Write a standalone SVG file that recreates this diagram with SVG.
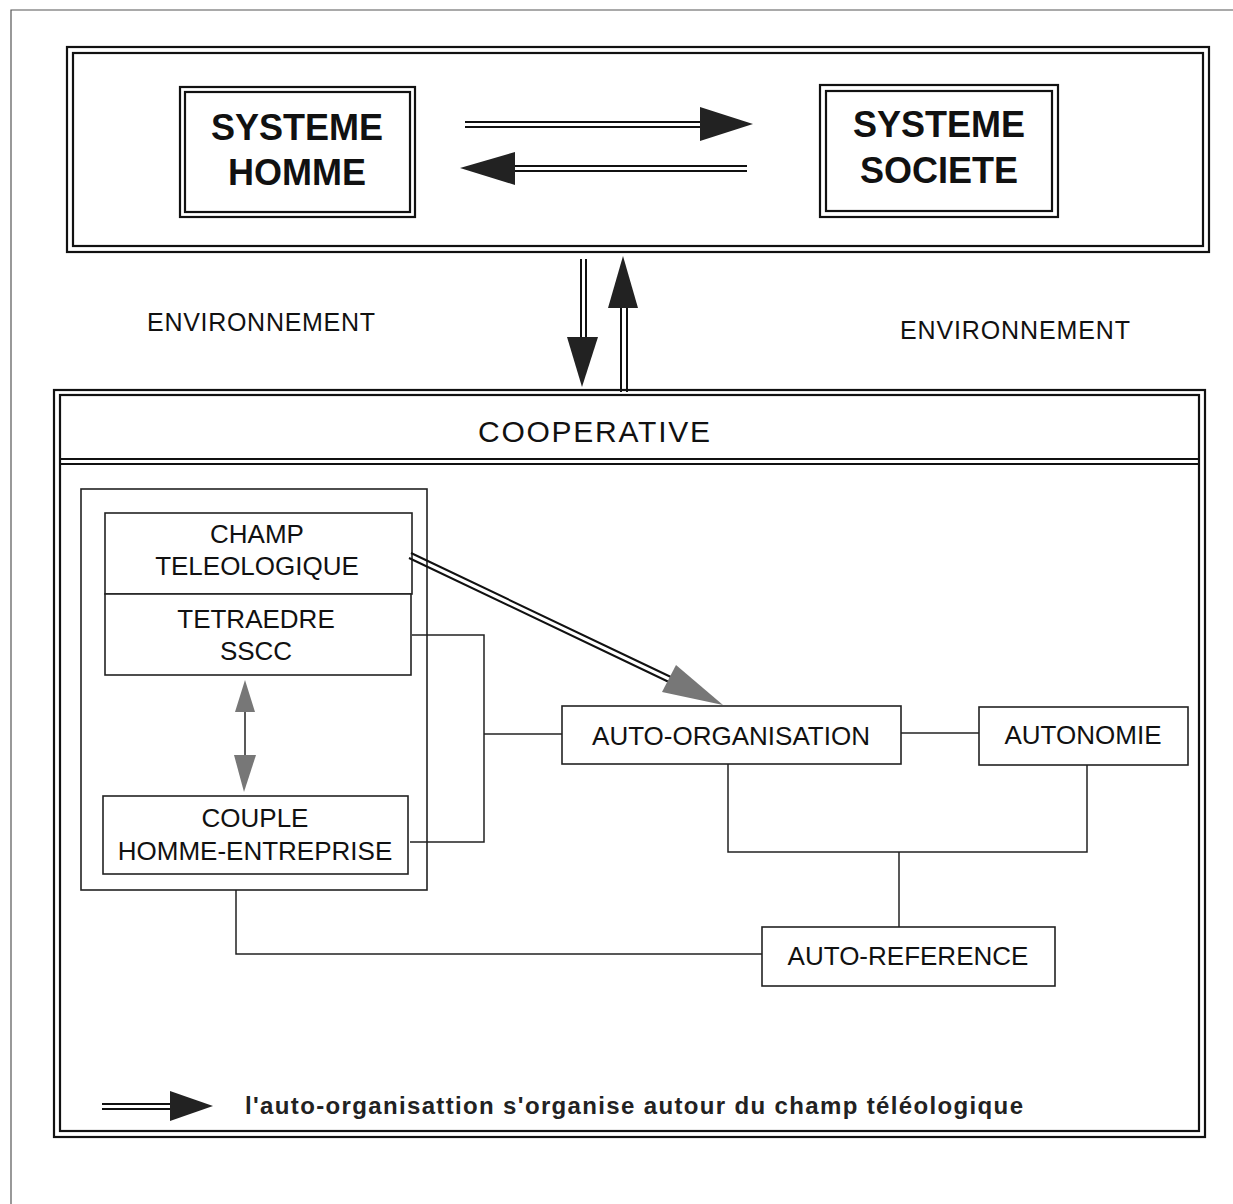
<svg xmlns="http://www.w3.org/2000/svg" width="1233" height="1204" viewBox="0 0 1233 1204">
<style>
.dbl{fill:none;stroke:#111;stroke-width:2.2}
.box{fill:#fff;stroke:#222;stroke-width:1.6}
.con{fill:none;stroke:#222;stroke-width:1.5}
.arr{fill:none;stroke:#111;stroke-width:2}
.t{font-family:"Liberation Sans",Arial,sans-serif;fill:#111;text-anchor:middle}
.b{font-weight:bold;font-size:36px}
.n{font-size:26px}
.head{fill:#222}
.ghead{fill:#777}
</style>
<rect width="1233" height="1204" fill="#fff"/>
<path d="M11,1204 V10 H1233" fill="none" stroke="#555" stroke-width="1.2"/>

<g id="top-frame">
<rect class="dbl" x="67" y="47" width="1142" height="205"/>
<rect class="dbl" x="73" y="53" width="1130" height="193"/>
</g>

<g id="systeme-homme">
<rect class="dbl" x="180" y="87" width="235" height="130"/>
<rect class="dbl" x="185" y="92" width="225" height="120"/>
<text class="t b" x="297" y="140">SYSTEME</text>
<text class="t b" x="297" y="185">HOMME</text>
</g>

<g id="systeme-societe">
<rect class="dbl" x="820" y="85" width="238" height="132"/>
<rect class="dbl" x="826" y="91" width="226" height="120"/>
<text class="t b" x="939" y="137">SYSTEME</text>
<text class="t b" x="939" y="183">SOCIETE</text>
</g>

<g id="env-left"><text class="t" x="261" y="331" font-size="25" textLength="228">ENVIRONNEMENT</text></g>
<g id="env-right"><text class="t" x="1015" y="339" font-size="25" textLength="230">ENVIRONNEMENT</text></g>

<g id="cooperative">
<rect class="dbl" x="54" y="390" width="1151" height="747"/>
<rect class="dbl" x="60" y="395" width="1139" height="736"/>
<path class="dbl" d="M60,459 H1199 M60,464 H1199"/>
<text class="t" x="594" y="442" font-size="30" textLength="232">COOPERATIVE</text>
</g>

<g id="group-box"><rect class="box" x="81" y="489" width="346" height="401" fill="none"/></g>

<g id="champ-teleologique">
<rect class="box" x="105" y="513" width="307" height="81"/>
<text class="t n" x="257" y="543">CHAMP</text>
<text class="t n" x="257" y="575">TELEOLOGIQUE</text>
</g>

<g id="tetraedre">
<rect class="box" x="105" y="594" width="306" height="81"/>
<text class="t n" x="256" y="628">TETRAEDRE</text>
<text class="t n" x="256" y="660">SSCC</text>
</g>

<g id="couple">
<rect class="box" x="103" y="796" width="305" height="78"/>
<text class="t n" x="255" y="827">COUPLE</text>
<text class="t n" x="255" y="860">HOMME-ENTREPRISE</text>
</g>

<g id="auto-organisation">
<rect class="box" x="562" y="706" width="339" height="58"/>
<text class="t n" x="731" y="745">AUTO-ORGANISATION</text>
</g>

<g id="autonomie">
<rect class="box" x="979" y="707" width="209" height="58"/>
<text class="t n" x="1083" y="744">AUTONOMIE</text>
</g>

<g id="auto-reference">
<rect class="box" x="762" y="927" width="293" height="59"/>
<text class="t n" x="908" y="965">AUTO-REFERENCE</text>
</g>

<g id="legend">
<path class="arr" d="M102,1104 H175 M102,1109 H175"/>
<polygon class="head" points="170,1091 213,1106 170,1121"/>
<text x="245" y="1114" font-family="'Liberation Sans',Arial,sans-serif" font-size="24" font-weight="bold" fill="#222" textLength="778">l'auto-organisattion s'organise autour du champ téléologique</text>
</g>

<g id="connectors">
<path class="arr" d="M465,122 H705 M465,127 H705"/>
<polygon class="head" points="700,107 753,124 700,141"/>
<path class="arr" d="M510,166 H747 M510,171 H747"/>
<polygon class="head" points="515,152 460,168 515,185"/>
<path class="arr" d="M581,259 V340 M586,259 V340"/>
<polygon class="head" points="567,337 598,337 582,387"/>
<path class="arr" d="M621,305 V392 M627,305 V392"/>
<polygon class="head" points="608,308 638,308 623,256"/>
<path class="arr" d="M409,558 L671,683 M411,553 L673,678" stroke-width="1.8"/>
<polygon class="ghead" points="662,692 723,705 676,665"/>
<path class="con" d="M245,712 V755"/>
<polygon class="ghead" points="245,680 235,712 255,712"/>
<polygon class="ghead" points="234,755 256,755 244,792"/>
<path class="con" d="M412,635 H484 V842 H410"/>
<path class="con" d="M484,734 H562"/>
<path class="con" d="M901,733 H979"/>
<path class="con" d="M728,764 V852 H1087 V765"/>
<path class="con" d="M899,852 V927"/>
<path class="con" d="M236,890 V954 H762"/>
</g>
</svg>
